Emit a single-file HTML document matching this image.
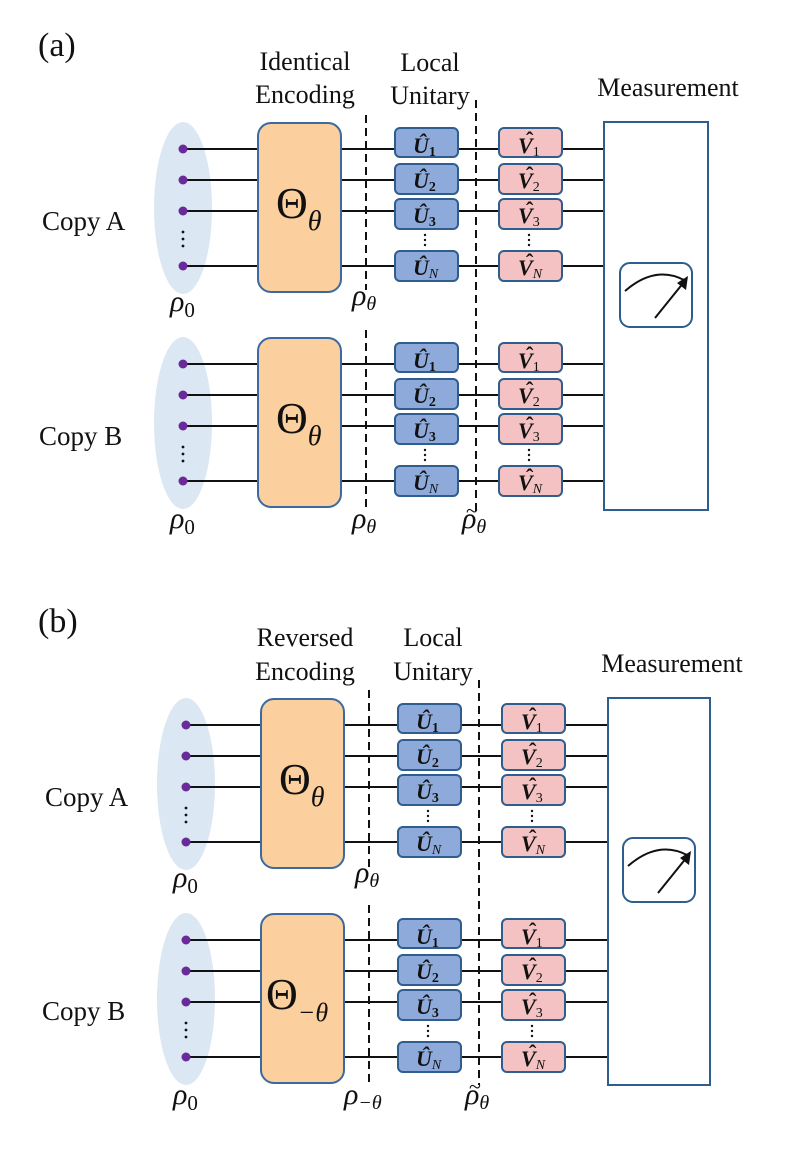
<!DOCTYPE html>
<html><head><meta charset="utf-8"><style>
html,body{margin:0;padding:0;background:#fff;width:797px;height:1159px;overflow:hidden}
svg{display:block}
text{font-family:"Liberation Serif",serif;fill:#111}
.w{stroke:#111;stroke-width:2}
.d{stroke:#111;stroke-width:2;stroke-dasharray:8,5}
.u{fill:#8eaadb;stroke:#2f5d8e;stroke-width:2}
.v{fill:#f4c2c2;stroke:#2f5d8e;stroke-width:2}
.t{fill:#fbcf9e;stroke:#3a6aa0;stroke-width:2}
.e{fill:#dce7f4}
.q{fill:#6a2a9a}
.ul{font-style:italic;font-weight:bold;font-size:22px}
.vl{font-style:italic;font-weight:bold;font-size:22px}
.s{font-size:14px;font-weight:bold;font-style:normal}
.sn{font-size:14px;font-style:italic;font-weight:normal}
.sv{font-size:14px;font-style:normal;font-weight:normal}
.h{font-size:26px}
.th{font-size:44px}
</style></head><body>
<svg width="797" height="1159" viewBox="0 0 797 1159" xmlns="http://www.w3.org/2000/svg">
<defs>
<g id="blk">
<ellipse class="e" cx="183" cy="208" rx="29" ry="86"/>
<g class="w">
<line x1="183" y1="149" x2="258" y2="149"/><line x1="183" y1="180" x2="258" y2="180"/><line x1="183" y1="211" x2="258" y2="211"/><line x1="183" y1="266" x2="258" y2="266"/>
<line x1="341" y1="149" x2="605" y2="149"/><line x1="341" y1="180" x2="605" y2="180"/><line x1="341" y1="211" x2="605" y2="211"/><line x1="341" y1="266" x2="605" y2="266"/>
</g>
<circle class="q" cx="183" cy="149" r="4.5"/><circle class="q" cx="183" cy="180" r="4.5"/><circle class="q" cx="183" cy="211" r="4.5"/><circle class="q" cx="183" cy="266" r="4.5"/>
<circle cx="183" cy="232" r="1.4" fill="#111"/><circle cx="183" cy="239" r="1.4" fill="#111"/><circle cx="183" cy="246" r="1.4" fill="#111"/>
<rect class="t" x="258" y="123" width="83" height="169" rx="13"/>
<rect class="u" x="395" y="128" width="63" height="29" rx="5"/>
<rect class="u" x="395" y="164" width="63" height="30" rx="5"/>
<rect class="u" x="395" y="199" width="63" height="30" rx="5"/>
<rect class="u" x="395" y="251" width="63" height="30" rx="5"/>
<rect class="v" x="499" y="128" width="63" height="29" rx="5"/>
<rect class="v" x="499" y="164" width="63" height="30" rx="5"/>
<rect class="v" x="499" y="199" width="63" height="30" rx="5"/>
<rect class="v" x="499" y="251" width="63" height="30" rx="5"/>
<circle cx="425" cy="235" r="1.2" fill="#111"/><circle cx="425" cy="240" r="1.2" fill="#111"/><circle cx="425" cy="245" r="1.2" fill="#111"/>
<circle cx="529" cy="235" r="1.2" fill="#111"/><circle cx="529" cy="240" r="1.2" fill="#111"/><circle cx="529" cy="245" r="1.2" fill="#111"/>
</g>
</defs>
<use href="#blk"/>
<use href="#blk" transform="translate(0,215)"/>
<use href="#blk" transform="translate(3,576)"/>
<use href="#blk" transform="translate(3,791)"/>

<rect x="604" y="122" width="104" height="388" fill="none" stroke="#2f5d8e" stroke-width="2"/>
<rect x="620" y="263" width="72" height="64" rx="10" fill="#fff" stroke="#2f5d8e" stroke-width="2"/>
<path d="M625,291 Q655,265 684,280" fill="none" stroke="#111" stroke-width="2"/>
<line x1="655" y1="318" x2="684" y2="282" stroke="#111" stroke-width="2"/>
<polygon points="688,276 677,283 686,290" fill="#111"/>
<rect x="608" y="698" width="102" height="387" fill="none" stroke="#2f5d8e" stroke-width="2"/>
<rect x="623" y="838" width="72" height="64" rx="10" fill="#fff" stroke="#2f5d8e" stroke-width="2"/>
<path d="M628,866 Q658,840 687,855" fill="none" stroke="#111" stroke-width="2"/>
<line x1="658" y1="893" x2="687" y2="857" stroke="#111" stroke-width="2"/>
<polygon points="691,851 680,858 689,865" fill="#111"/>

<line class="d" x1="366" y1="115" x2="366" y2="290"/>
<line class="d" x1="366" y1="330" x2="366" y2="512"/>
<line class="d" x1="476" y1="100" x2="476" y2="512"/>
<line class="d" x1="369" y1="690" x2="369" y2="868"/>
<line class="d" x1="369" y1="905" x2="369" y2="1085"/>
<line class="d" x1="479" y1="680" x2="479" y2="1085"/>

<text x="38" y="56" font-size="34">(a)</text>
<text x="305" y="70" class="h" text-anchor="middle">Identical</text>
<text x="305" y="103" class="h" text-anchor="middle">Encoding</text>
<text x="430" y="71" class="h" text-anchor="middle">Local</text>
<text x="430" y="104" class="h" text-anchor="middle">Unitary</text>
<text x="668" y="96" class="h" text-anchor="middle">Measurement</text>
<text x="38" y="632" font-size="34">(b)</text>
<text x="305" y="646" class="h" text-anchor="middle">Reversed</text>
<text x="305" y="680" class="h" text-anchor="middle">Encoding</text>
<text x="433" y="646" class="h" text-anchor="middle">Local</text>
<text x="433" y="680" class="h" text-anchor="middle">Unitary</text>
<text x="672" y="672" class="h" text-anchor="middle">Measurement</text>

<text x="42" y="230" font-size="27">Copy A</text>
<text x="39" y="445" font-size="27">Copy B</text>
<text x="45" y="806" font-size="27">Copy A</text>
<text x="42" y="1020" font-size="27">Copy B</text>

<g font-style="italic" font-size="30">
<text x="170" y="311">ρ<tspan font-style="normal" font-size="21" dy="6">0</tspan></text>
<text x="352" y="305">ρ<tspan font-size="20" dy="5">θ</tspan></text>
<text x="170" y="528">ρ<tspan font-style="normal" font-size="21" dy="6">0</tspan></text>
<text x="352" y="528">ρ<tspan font-size="20" dy="5">θ</tspan></text>
<text x="462" y="528">ρ<tspan font-size="20" dy="5">θ</tspan></text>
<text x="466" y="518" font-style="normal" font-size="22">~</text>
<text x="173" y="887">ρ<tspan font-style="normal" font-size="21" dy="6">0</tspan></text>
<text x="355" y="882">ρ<tspan font-size="20" dy="5">θ</tspan></text>
<text x="173" y="1104">ρ<tspan font-style="normal" font-size="21" dy="6">0</tspan></text>
<text x="344" y="1104">ρ<tspan font-size="20" dy="5">−θ</tspan></text>
<text x="465" y="1104">ρ<tspan font-size="20" dy="5">θ</tspan></text>
<text x="469" y="1094" font-style="normal" font-size="22">~</text>
</g>

<text x="276" y="218" class="th">Θ<tspan font-style="italic" font-size="28" dy="12">θ</tspan></text>
<text x="276" y="433" class="th">Θ<tspan font-style="italic" font-size="28" dy="12">θ</tspan></text>
<text x="279" y="794" class="th">Θ<tspan font-style="italic" font-size="28" dy="12">θ</tspan></text>
<text x="266" y="1009" class="th">Θ<tspan font-style="italic" font-size="26" dy="12">−θ</tspan></text>

<g>
<text class="ul" x="413" y="153">Û<tspan class="s" dy="3">1</tspan></text>
<text class="ul" x="413" y="188">Û<tspan class="s" dy="3">2</tspan></text>
<text class="ul" x="413" y="223">Û<tspan class="s" dy="3">3</tspan></text>
<text class="ul" x="413" y="275">Û<tspan class="sn" dy="3">N</tspan></text>
<text class="vl" x="518" y="153">V<tspan class="sv" dy="3">1</tspan></text>
<text class="vl" x="518" y="188">V<tspan class="sv" dy="3">2</tspan></text>
<text class="vl" x="518" y="223">V<tspan class="sv" dy="3">3</tspan></text>
<text class="vl" x="518" y="275">V<tspan class="sn" dy="3">N</tspan></text>
<text class="ul" x="413" y="368">Û<tspan class="s" dy="3">1</tspan></text>
<text class="ul" x="413" y="403">Û<tspan class="s" dy="3">2</tspan></text>
<text class="ul" x="413" y="438">Û<tspan class="s" dy="3">3</tspan></text>
<text class="ul" x="413" y="490">Û<tspan class="sn" dy="3">N</tspan></text>
<text class="vl" x="518" y="368">V<tspan class="sv" dy="3">1</tspan></text>
<text class="vl" x="518" y="403">V<tspan class="sv" dy="3">2</tspan></text>
<text class="vl" x="518" y="438">V<tspan class="sv" dy="3">3</tspan></text>
<text class="vl" x="518" y="490">V<tspan class="sn" dy="3">N</tspan></text>
<text class="ul" x="416" y="729">Û<tspan class="s" dy="3">1</tspan></text>
<text class="ul" x="416" y="764">Û<tspan class="s" dy="3">2</tspan></text>
<text class="ul" x="416" y="799">Û<tspan class="s" dy="3">3</tspan></text>
<text class="ul" x="416" y="851">Û<tspan class="sn" dy="3">N</tspan></text>
<text class="vl" x="521" y="729">V<tspan class="sv" dy="3">1</tspan></text>
<text class="vl" x="521" y="764">V<tspan class="sv" dy="3">2</tspan></text>
<text class="vl" x="521" y="799">V<tspan class="sv" dy="3">3</tspan></text>
<text class="vl" x="521" y="851">V<tspan class="sn" dy="3">N</tspan></text>
<text class="ul" x="416" y="944">Û<tspan class="s" dy="3">1</tspan></text>
<text class="ul" x="416" y="979">Û<tspan class="s" dy="3">2</tspan></text>
<text class="ul" x="416" y="1014">Û<tspan class="s" dy="3">3</tspan></text>
<text class="ul" x="416" y="1066">Û<tspan class="sn" dy="3">N</tspan></text>
<text class="vl" x="521" y="944">V<tspan class="sv" dy="3">1</tspan></text>
<text class="vl" x="521" y="979">V<tspan class="sv" dy="3">2</tspan></text>
<text class="vl" x="521" y="1014">V<tspan class="sv" dy="3">3</tspan></text>
<text class="vl" x="521" y="1066">V<tspan class="sn" dy="3">N</tspan></text>
</g>
<g font-size="22" font-weight="bold">
<text x="526" y="147">ˆ</text><text x="526" y="182">ˆ</text><text x="526" y="217">ˆ</text><text x="526" y="269">ˆ</text>
<text x="526" y="362">ˆ</text><text x="526" y="397">ˆ</text><text x="526" y="432">ˆ</text><text x="526" y="484">ˆ</text>
<text x="529" y="723">ˆ</text><text x="529" y="758">ˆ</text><text x="529" y="793">ˆ</text><text x="529" y="845">ˆ</text>
<text x="529" y="938">ˆ</text><text x="529" y="973">ˆ</text><text x="529" y="1008">ˆ</text><text x="529" y="1060">ˆ</text>
</g>
</svg>
</body></html>
